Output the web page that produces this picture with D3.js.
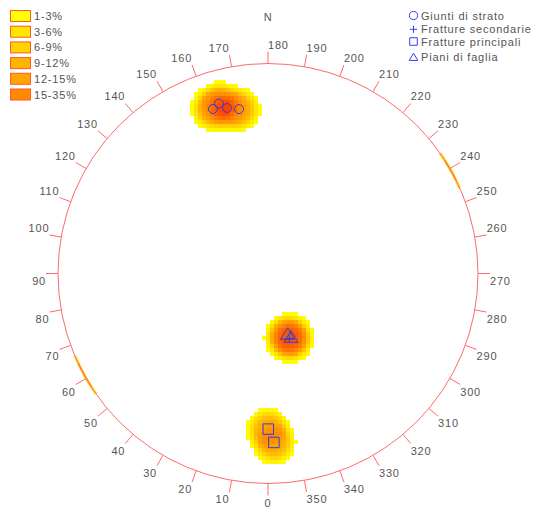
<!DOCTYPE html>
<html><head><meta charset="utf-8">
<script src="https://cdn.jsdelivr.net/npm/d3@7"></script>
<style>
body{margin:0;background:#fff}
svg{display:block}
text{font-family:"Liberation Sans",Arial,sans-serif;font-size:11px;fill:#555;letter-spacing:0.8px}
</style>
</head><body>
<svg id="c" width="534" height="514"></svg>
<script>
// ---- data ----
const tickLabels = [0,10,20,30,40,50,60,70,80,90,100,110,120,130,140,150,160,170,
                    180,190,200,210,220,230,240,250,260,270,280,290,300,310,320,330,340,350];
const densityClasses = ["1-3%","3-6%","6-9%","9-12%","12-15%","15-35%"];
const classColors = ["#ffff00","#ffe600","#ffd200","#ffb400","#ffa500","#ff8a00"];
const setNames = ["Giunti di strato","Fratture secondarie","Fratture principali","Piani di faglia"];
const setSymbols = ["circle","plus","square","triangle"];
// planes as [dip direction, dip] (pole plotted)
const giuntiDiStrato = [[161.5,71.5],[163.9,73.1],[166.1,70.1],[170.0,68.4]];
const frattureSecondarie = [[341.8,26.6]];
const frattureprincipali = [[359.9,63.2],[358.0,69.4]];
const pianiDiFaglia = [[342.5,25.3],[340.5,26.8]];
// thin density strips on the primitive circle, dip direction ranges
const rimDensity = [[235,246],[55,67]];

// ---- layout ----
const cx = 268, cy = 273.5, R = 210, tickLen = 12;
const svg = d3.select("#c");
const angle = d3.scaleLinear().domain([0,360]).range([0, 2*Math.PI]);
const radial = d3.scaleSqrt().domain([0,1]).range([0,R]);   // equal-area (Schmidt)
const theta = dd => angle((dd + 180) % 360);
function project([dd, dip]) {
  const t = theta(dd), r = radial(1 - Math.cos(dip*Math.PI/180));
  return [cx + r*Math.sin(t), cy - r*Math.cos(t)];
}
const sets = [giuntiDiStrato, frattureSecondarie, frattureprincipali, pianiDiFaglia]
  .map((poles,i) => ({name:setNames[i], symbol:setSymbols[i], pts:poles.map(project)}));
const allPts = sets.flatMap(s => s.pts);
const N = allPts.length;

// ---- density grid ----
const color = d3.scaleLinear()
  .domain([1,4,8,11,15,22,33,44])
  .range(["#ffff00","#ffe800","#ffcc00","#ffb000","#ffa000","#ff8800","#ff5500","#ff2000"])
  .clamp(true);
const cell = 4, r0 = 16, wd = 2.6;
const cells = [];
for (let gx = cx - R; gx < cx + R; gx += cell) {
  for (let gy = cy - R; gy < cy + R; gy += cell) {
    const px = gx + cell/2, py = gy + cell/2;
    if (Math.hypot(px-cx, py-cy) > R) continue;
    let s = 0;
    for (const [x,y] of allPts) s += 1/(1+Math.exp((Math.hypot(px-x,py-y)-r0)/wd));
    const d = s*100/N;
    if (d >= 1) cells.push({x:gx, y:gy, d});
  }
}
svg.append("g").attr("shape-rendering","crispEdges")
  .selectAll("rect").data(cells).join("rect")
  .attr("x", d=>d.x).attr("y", d=>d.y).attr("width", cell).attr("height", cell)
  .attr("fill", d=>color(d.d));

// rim strips
const arcY = d3.arc().innerRadius(R-1.6).outerRadius(R+1.4);
const arcO = d3.arc().innerRadius(R-0.8).outerRadius(R+0.6);
const rim = svg.append("g").attr("transform",`translate(${cx},${cy})`);
rimDensity.forEach(([a,b]) => {
  rim.append("path").attr("d", arcY({startAngle:theta(a), endAngle:theta(b)})).attr("fill","#ffe030");
  rim.append("path").attr("d", arcO({startAngle:theta(a+2.5), endAngle:theta(b-2.5)})).attr("fill","#ff9a10");
});

// primitive circle + ticks
svg.append("circle").attr("cx",cx).attr("cy",cy).attr("r",R)
  .attr("fill","none").attr("stroke","#ff6a6a").attr("stroke-width",1);
const tg = svg.append("g");
tickLabels.forEach(L => {
  const t = theta(L), s = Math.sin(t), c = Math.cos(t);
  const x1 = cx + R*s, y1 = cy - R*c, x2 = cx + (R+tickLen)*s, y2 = cy - (R+tickLen)*c;
  tg.append("line").attr("x1",x1).attr("y1",y1).attr("x2",x2).attr("y2",y2)
    .attr("stroke","#ff6a6a").attr("stroke-width",1);
  let anchor = x2 >= cx - 0.01 ? "start" : "end";
  if (Math.abs(s) < 1e-6 && c < 0) anchor = "middle";
  const ty = y2 < cy - 0.5 ? y2 - 3 : y2 + 11;
  tg.append("text").attr("x", x2).attr("y", ty).attr("text-anchor", anchor).text(L);
});
svg.append("text").attr("x",cx).attr("y",20.5).attr("text-anchor","middle").text("N");

// ---- markers ----
function symPath(sym, x, y, k) {
  if (sym === "circle") { const r = 4.5*k; return `M${x-r},${y}a${r},${r} 0 1,0 ${2*r},0a${r},${r} 0 1,0 ${-2*r},0Z`; }
  if (sym === "square") { const h = 5.25*k; return `M${x-h},${y-h}h${2*h}v${2*h}h${-2*h}Z`; }
  if (sym === "triangle") { const w = 7*k, h = 11.6*k; return `M${x},${y-2*h/3}L${x+w},${y+h/3}L${x-w},${y+h/3}Z`; }
  const a = 4*k; return `M${x-a},${y}h${2*a}M${x},${y-a}v${2*a}`;
}
const mg = svg.append("g").attr("fill","none").attr("stroke","#3a3ad8").attr("stroke-width",1);
sets.forEach(s => s.pts.forEach(([x,y]) => mg.append("path").attr("d", symPath(s.symbol, x, y, 1))));

// ---- legends ----
const lg = svg.append("g");
densityClasses.forEach((lab,i) => {
  const y = 10 + i*15.7;
  lg.append("rect").attr("x",10.5).attr("y",y+0.5).attr("width",20).attr("height",11)
    .attr("fill",classColors[i]).attr("stroke","#ff5a28").attr("stroke-width",1);
  lg.append("text").attr("x",34).attr("y",y+10).text(lab);
});
const rg = svg.append("g");
const legRows = [15.5, 29.3, 41.5, 57];
sets.forEach((s,i) => {
  const y = legRows[i];
  const k = s.symbol === "triangle" ? 0.62 : (s.symbol === "square" ? 0.72 : 0.9);
  rg.append("path").attr("d", symPath(s.symbol, 413.5, s.symbol==="triangle" ? y+1 : y, k))
    .attr("fill","none").attr("stroke","#3a3aff").attr("stroke-width",1);
  rg.append("text").attr("x",421).attr("y",y+4).text(s.name);
});
</script>
</body></html>
